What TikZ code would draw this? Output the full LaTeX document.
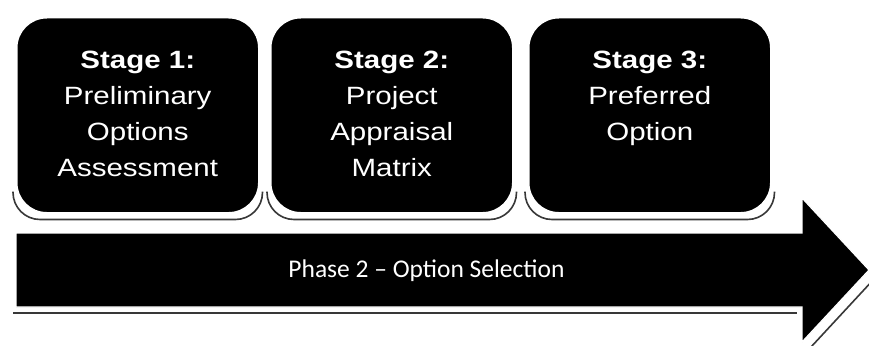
\documentclass[tikz,border=0pt]{standalone}
\usepackage{fontspec}
\usetikzlibrary{calc}
% Arial-metric sans, widened for the stage captions
\newfontfamily\stagefont[FakeStretch=1.18]{Liberation Sans}
\newfontfamily\phasefont{Carlito}

\begin{document}
\begin{tikzpicture}[x=1pt,y=-1pt,
  stagebox/.style={fill=black, draw=white, line width=1.5pt,
    rounded corners=30pt, minimum width=242pt, minimum height=195pt,
    inner sep=0pt, anchor=north west},
  stagetext/.style={text=white, align=center, inner sep=0pt, anchor=north,
    font=\stagefont\fontsize{25}{36}\selectfont},
  phasetext/.style={text=white, inner sep=0pt, anchor=base,
    font=\phasefont\fontsize{25.5}{30}\selectfont},
  shadowline/.style={draw=black!78, line width=1.6pt, rounded corners=27pt},
  arrowbody/.style={fill=black, draw=white, line width=1.2pt}
]
  % canvas
  \fill[white] (0,0) rectangle (869,345);
  \useasboundingbox (0,0) rectangle (869,345);

  % stage boxes
  \node[stagebox] (b1) at (16,17) {};
  \node[stagebox] (b2) at (270,17) {};
  \node[stagebox] (b3) at (528,17) {};

  % soft drop shadows under the lower edge of each box
  \foreach \b in {b1,b2,b3}{
    \draw[shadowline]
      ([shift={(-3,-22)}]\b.south west) -- ([shift={(-3,6)}]\b.south west)
      -- ([shift={(3,6)}]\b.south east) -- ([shift={(3,-22)}]\b.south east);
  }
  % redraw boxes over the shadows
  \node[stagebox] at (16,17) {};
  \node[stagebox] at (270,17) {};
  \node[stagebox] at (528,17) {};

  % captions
  \node[stagetext] (t1) at ([shift={(0,34)}]b1.north)
    {\bfseries Stage 1:\\Preliminary\\Options\\Assessment};
  \node[stagetext] (t2) at ([shift={(0,34)}]b2.north)
    {\bfseries Stage 2:\\Project\\Appraisal\\Matrix};
  \node[stagetext] (t3) at ([shift={(0,34)}]b3.north)
    {\bfseries Stage 3:\\Preferred\\Option};

  % shadow of the phase arrow
  \draw[draw=black!78, line width=1.6pt] (13,313) -- (797,313);
  \draw[draw=black!78, line width=1.6pt] (811,347) -- (874,279);

  % phase arrow
  \path[arrowbody] (16,233) -- (802,233) -- (802,198) -- (869,270)
    -- (802,342) -- (802,307) -- (16,307) -- cycle;

  \node[phasetext] (ph) at (426.5,277) {Phase 2 – Option Selection};
\end{tikzpicture}
\end{document}
